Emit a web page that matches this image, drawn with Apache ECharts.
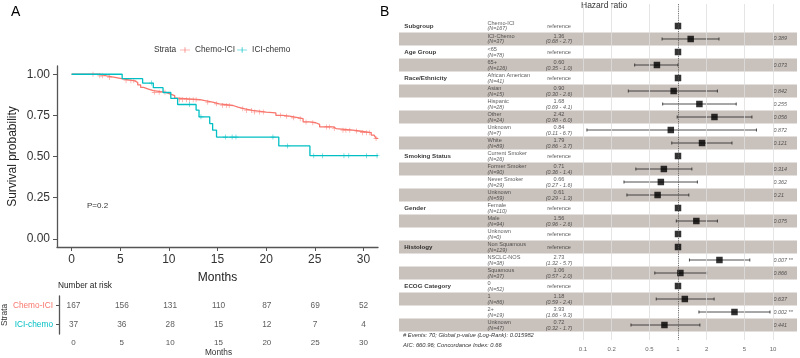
<!DOCTYPE html>
<html>
<head>
<meta charset="utf-8">
<script src="https://cdn.jsdelivr.net/npm/echarts@6/dist/echarts.min.js"></script>
<style>
  html, body { margin: 0; padding: 0; background: #fff; }
  #main { width: 800px; height: 358px; }
</style>
</head>
<body>
<div id="main"></div>
<script>
// ---- KM curves (months, survival) ----
const chemoTime = [0, 2.9, 3.6, 4.6, 5.4, 6.5, 6.8, 7.1, 7.4, 7.9, 8.4, 9.7, 10.1, 10.6, 10.9, 13.2, 13.7, 14.5, 15.2, 16.6, 17.1, 17.8, 18.6, 20.0, 21.0, 21.7, 22.4, 23.4, 23.8, 24.5, 25.1, 25.5, 26.9, 27.2, 28.9, 29.6, 30.8, 31.1, 31.3, 31.5];
const chemoSurv = [1.00, 0.99, 0.98, 0.97, 0.96, 0.95, 0.935, 0.92, 0.91, 0.90, 0.89, 0.88, 0.87, 0.855, 0.845, 0.84, 0.83, 0.82, 0.81, 0.80, 0.79, 0.78, 0.77, 0.765, 0.75, 0.745, 0.735, 0.73, 0.71, 0.705, 0.695, 0.68, 0.67, 0.66, 0.655, 0.645, 0.63, 0.62, 0.61, 0.61];
const chemoCensor = [2.2, 2.9, 3.2, 3.9, 5.6, 6.1, 6.4, 8.5, 9.0, 9.6, 11.1, 11.4, 11.8, 12.1, 12.5, 12.8, 14.0, 14.9, 15.5, 15.9, 16.2, 17.6, 18.0, 18.5, 18.8, 19.3, 19.7, 21.5, 22.1, 22.8, 23.5, 24.1, 24.8, 26.2, 26.5, 27.0, 27.9, 28.2, 28.6, 29.3, 29.9, 30.3, 30.6, 31.3];

const iciTime = [0, 5.2, 7.3, 8.4, 9.4, 10.2, 10.9, 12.8, 13.1, 14.2, 14.5, 14.9, 21.3, 24.5, 31.5];
const iciSurv = [1.00, 0.973, 0.946, 0.918, 0.889, 0.853, 0.816, 0.782, 0.741, 0.70, 0.66, 0.618, 0.564, 0.505, 0.505];
const iciCensor = [8.2, 12.1, 13.3, 15.8, 16.5, 16.9, 20.7, 22.2, 24.9, 25.8, 28.0, 28.5, 30.3, 31.4];

const monthTicks = [0, 5, 10, 15, 20, 25, 30];
const survTicks = [0, 0.25, 0.5, 0.75, 1];
const strataNames = ['Chemo-ICI', 'ICI-chemo'];
const riskChemo = [167, 156, 131, 110, 87, 69, 52];
const riskIci = [37, 36, 28, 15, 12, 7, 4];

// ---- forest plot ----
const varNames = ['Subgroup', 'Age Group', 'Race/Ethnicity', 'Smoking Status', 'Gender', 'Histology', 'ECOG Category'];
const varRow = [1, 3, 5, 11, 15, 18, 21];
const levelNames = ['Chemo-ICI', 'ICI-Chemo', '<65', '65+', 'African American', 'Asian', 'Hispanic', 'Other', 'Unknown', 'White',
  'Current Smoker', 'Former Smoker', 'Never Smoker', 'Unknown', 'Female', 'Male', 'Unknown',
  'Non Squamous', 'NSCLC-NOS', 'Squamous', '0', '1', '2+', 'Unknown'];
const levelN = [167, 37, 78, 126, 41, 15, 28, 24, 7, 89, 26, 90, 29, 59, 110, 94, 0, 129, 38, 37, 52, 86, 19, 47];
const hr = [null, 1.36, null, 0.60, null, 0.90, 1.68, 2.42, 0.84, 1.79, null, 0.71, 0.66, 0.61, null, 1.56, null, null, 2.73, 1.06, null, 1.18, 3.93, 0.72];
const hrLow = [null, 0.68, null, 0.35, null, 0.30, 0.69, 0.98, 0.11, 0.86, null, 0.36, 0.27, 0.29, null, 0.96, null, null, 1.32, 0.57, null, 0.59, 1.66, 0.32];
const hrHigh = [null, 2.7, null, 1.0, null, 2.6, 4.1, 6.0, 6.7, 3.7, null, 1.4, 1.6, 1.3, null, 2.6, null, null, 5.7, 2.0, null, 2.4, 9.3, 1.7];
const pText = ['', '0.389', '', '0.073', '', '0.842', '0.255', '0.056', '0.872', '0.121', '', '0.314', '0.362', '0.21', '', '0.075', '', '', '0.007 **', '0.866', '', '0.637', '0.002 **', '0.441'];
const hrTicks = [0.1, 0.2, 0.5, 1, 2, 5, 10];

const RED = '#F8766D', TEAL = '#00BFC4';
const FONT = 'Liberation Sans, Arial, sans-serif';
const cross = 'path://M0,4.4h10v1.2h-10z M4.4,0h1.2v10h-1.2z';

function survAt(times, surv, t) {
  let s = surv[0];
  for (let i = 0; i < times.length; i++) if (times[i] <= t) s = surv[i];
  return s;
}

const myChart = echarts.init(document.getElementById('main'));

// text column positions on the hidden 0..1 axis
const COL_VAR = 0.012, COL_LEVEL = 0.221, COL_EST = 0.402, COL_P = 0.94;

const txt = (x, y, text, extra) => ({
  type: 'text', left: x, top: y,
  style: Object.assign({ text: text, fontFamily: FONT, fill: '#222', fontSize: 8 }, extra || {})
});

myChart.setOption({
  animation: false,
  textStyle: { fontFamily: FONT },
  legend: {
    left: 180, top: 46, padding: 0, itemWidth: 10, itemHeight: 7, itemGap: 2,
    textStyle: { fontSize: 8.3, color: '#333' },
    data: [{ name: 'Chemo-ICI', icon: 'path://M0,4.5h14v1h-14z M6.5,1h1v8h-1z' },
           { name: 'ICI-chemo', icon: 'path://M0,4.5h14v1h-14z M6.5,1h1v8h-1z' }]
  },
  graphic: [
    txt(11, 5, 'A', { fontSize: 14, fill: '#000' }),
    txt(380, 5, 'B', { fontSize: 14, fill: '#000' }),
    txt(154, 45.5, 'Strata', { fontSize: 8.3, fill: '#333' }),
    txt(87, 202, 'P=0.2', { fontSize: 8, fill: '#333' }),
    txt(58, 282, 'Number at risk', { fontSize: 8.3, fill: '#222' }),
    txt(581, 1, 'Hazard ratio', { fontSize: 8.5, fill: '#333' }),
    txt(403, 332, '# Events: 70; Global p-value (Log-Rank): 0.015982', { fontSize: 5.8, fontStyle: 'italic', fill: '#333' }),
    txt(403, 342, 'AIC: 660.96; Concordance Index: 0.66', { fontSize: 5.8, fontStyle: 'italic', fill: '#333' })
  ],
  grid: [
    { left: 57, top: 66, width: 321, height: 181 },
    { left: 57, top: 296, width: 321, height: 38 },
    { left: 399, top: 4, width: 398, height: 336 }
  ],
  xAxis: [
    {
      gridIndex: 0, type: 'value', min: -1.5, max: 31.5,
      axisLine: { onZero: false, lineStyle: { color: '#555', width: 1.3 } },
      axisTick: { customValues: monthTicks, length: 4, lineStyle: { color: '#555' } },
      axisLabel: { customValues: monthTicks, fontSize: 12, color: '#333', margin: 7 },
      splitLine: { show: false },
      name: 'Months', nameLocation: 'middle', nameGap: 25,
      nameTextStyle: { fontSize: 12, color: '#222' }
    },
    {
      gridIndex: 1, type: 'value', min: -1.5, max: 31.5,
      axisLine: { onZero: false, lineStyle: { color: '#555', width: 1.3 } },
      axisTick: { customValues: monthTicks, length: 3, lineStyle: { color: '#555' } },
      axisLabel: { customValues: monthTicks, fontSize: 8, color: '#555', margin: 5 },
      splitLine: { show: false },
      name: 'Months', nameLocation: 'middle', nameGap: 15,
      nameTextStyle: { fontSize: 8.3, color: '#333' }
    },
    {
      gridIndex: 2, type: 'log', min: 0.001157, max: 17.89,
      axisLine: { show: false }, axisTick: { show: false }, splitLine: { show: false },
      axisLabel: {
        customValues: hrTicks, fontSize: 6, color: '#666', margin: 6,
        formatter: v => String(Number(Number(v).toPrecision(3)))
      }
    },
    { gridIndex: 2, type: 'value', min: 0, max: 1, show: false }
  ],
  yAxis: [
    {
      gridIndex: 0, type: 'value', min: -0.05, max: 1.05,
      axisLine: { show: true, onZero: false, lineStyle: { color: '#555', width: 1.3 } },
      axisTick: { show: true, customValues: survTicks, length: 4, lineStyle: { color: '#555' } },
      axisLabel: { customValues: survTicks, fontSize: 12, color: '#333', margin: 7, formatter: v => Number(v).toFixed(2) },
      splitLine: { show: false },
      name: 'Survival probability', nameLocation: 'middle', nameGap: 38,
      nameTextStyle: { fontSize: 12, color: '#222' }
    },
    {
      gridIndex: 1, type: 'category', data: strataNames, inverse: true,
      axisLine: { show: true, onZero: false, lineStyle: { color: '#555', width: 1.3 } },
      axisTick: { show: true, alignWithLabel: true, length: 3, lineStyle: { color: '#555' } },
      axisLabel: {
        fontSize: 8.3, margin: 6,
        formatter: (v, i) => (i === 0 ? '{a|' + v + '}' : '{b|' + v + '}'),
        rich: { a: { color: RED, fontSize: 8.3 }, b: { color: TEAL, fontSize: 8.3 } }
      },
      name: 'Strata', nameLocation: 'middle', nameGap: 47, nameRotate: 90,
      nameTextStyle: { fontSize: 8.3, color: '#333' }
    },
    { gridIndex: 2, type: 'value', min: -0.6923, max: 25.1538, inverse: true, show: false }
  ],
  series: [
    {
      name: 'Chemo-ICI', type: 'line', step: 'end', showSymbol: false, xAxisIndex: 0, yAxisIndex: 0,
      data: chemoTime.map((t, i) => [t, chemoSurv[i]]),
      lineStyle: { color: RED, width: 1.3 }, itemStyle: { color: RED }
    },
    {
      name: 'ICI-chemo', type: 'line', step: 'end', showSymbol: false, xAxisIndex: 0, yAxisIndex: 0,
      data: iciTime.map((t, i) => [t, iciSurv[i]]),
      lineStyle: { color: TEAL, width: 1.3 }, itemStyle: { color: TEAL }
    },
    {
      name: 'Chemo-ICI', type: 'scatter', symbol: cross, symbolSize: 5, xAxisIndex: 0, yAxisIndex: 0,
      data: chemoCensor.map(t => [t, survAt(chemoTime, chemoSurv, t)]), itemStyle: { color: RED }
    },
    {
      name: 'ICI-chemo', type: 'scatter', symbol: cross, symbolSize: 5, xAxisIndex: 0, yAxisIndex: 0,
      data: iciCensor.map(t => [t, survAt(iciTime, iciSurv, t)]), itemStyle: { color: TEAL }
    },
    {
      name: 'risk1', type: 'scatter', xAxisIndex: 1, yAxisIndex: 1, symbolSize: 1,
      itemStyle: { color: 'rgba(0,0,0,0)' },
      data: monthTicks.map((t, i) => [t, 0, riskChemo[i]]),
      label: { show: true, position: 'inside', formatter: p => p.value[2], fontSize: 8.3, color: '#333' }
    },
    {
      name: 'risk2', type: 'scatter', xAxisIndex: 1, yAxisIndex: 1, symbolSize: 1,
      itemStyle: { color: 'rgba(0,0,0,0)' },
      data: monthTicks.map((t, i) => [t, 1, riskIci[i]]),
      label: { show: true, position: 'inside', formatter: p => p.value[2], fontSize: 8.3, color: '#333' }
    },
    // forest: shaded rows + grid lines
    {
      name: 'rows', type: 'custom', xAxisIndex: 2, yAxisIndex: 2, z: 1, silent: true,
      data: levelNames.map((l, i) => [1, i + 1]).filter(d => d[1] % 2 === 0),
      encode: { x: 0, y: 1 },
      renderItem: (params, api) => {
        const a = api.coord([1, api.value(1) - 0.5]);
        const b = api.coord([1, api.value(1) + 0.5]);
        const cs = params.coordSys;
        return { type: 'rect', shape: { x: cs.x, y: a[1], width: cs.width, height: b[1] - a[1] },
                 style: { fill: 'rgba(147,131,119,0.5)' } };
      },
      markLine: {
        silent: true, symbol: 'none', label: { show: false },
        lineStyle: { color: '#dedede', width: 0.8, type: 'solid' },
        data: hrTicks.filter(v => v !== 1).map(v => ({ xAxis: v }))
      }
    },
    {
      name: 'ci', type: 'custom', xAxisIndex: 2, yAxisIndex: 2, z: 2, silent: true,
      data: hr.map((h, i) => [hrLow[i], hrHigh[i], i + 1]).filter(d => d[0] !== null),
      encode: { x: [0, 1], y: 2 },
      renderItem: (params, api) => {
        const a = api.coord([api.value(0), api.value(2)]);
        const b = api.coord([api.value(1), api.value(2)]);
        const st = { stroke: '#222', lineWidth: 0.8 };
        return { type: 'group', children: [
          { type: 'line', shape: { x1: a[0], y1: a[1], x2: b[0], y2: b[1] }, style: st },
          { type: 'line', shape: { x1: a[0], y1: a[1] - 1.5, x2: a[0], y2: a[1] + 1.5 }, style: st },
          { type: 'line', shape: { x1: b[0], y1: b[1] - 1.5, x2: b[0], y2: b[1] + 1.5 }, style: st }
        ] };
      },
      markLine: {
        silent: true, symbol: 'none', label: { show: false },
        lineStyle: { color: '#555', width: 0.9, type: 'dotted' },
        data: [{ xAxis: 1 }]
      }
    },
    {
      name: 'hr', type: 'scatter', xAxisIndex: 2, yAxisIndex: 2, z: 3, symbol: 'rect', symbolSize: 6.5,
      itemStyle: { color: '#000' },
      data: hr.map((h, i) => [h === null ? 1 : h, i + 1])
    },
    // forest text columns
    {
      name: 'vars', type: 'scatter', xAxisIndex: 3, yAxisIndex: 2, z: 4, symbolSize: 1,
      itemStyle: { color: 'rgba(0,0,0,0)' },
      data: varRow.map(r => [COL_VAR, r]),
      label: { show: true, position: 'right', distance: 0, formatter: p => varNames[p.dataIndex],
               fontSize: 6.2, fontWeight: 'bold', color: '#000' }
    },
    {
      name: 'levels', type: 'scatter', xAxisIndex: 3, yAxisIndex: 2, z: 4, symbolSize: 1,
      itemStyle: { color: 'rgba(0,0,0,0)' },
      data: levelNames.map((l, i) => [COL_LEVEL, i + 1]),
      label: {
        show: true, position: 'right', distance: 0,
        formatter: p => '{n|' + levelNames[p.dataIndex] + '}\n{i|(N=' + levelN[p.dataIndex] + ')}',
        rich: { n: { fontSize: 5.6, color: '#333', lineHeight: 6 },
                i: { fontSize: 5.4, color: '#333', fontStyle: 'italic', lineHeight: 6 } }
      }
    },
    {
      name: 'est', type: 'scatter', xAxisIndex: 3, yAxisIndex: 2, z: 4, symbolSize: 1,
      itemStyle: { color: 'rgba(0,0,0,0)' },
      data: levelNames.map((l, i) => [COL_EST, i + 1]),
      label: {
        show: true, position: 'inside',
        formatter: p => {
          const i = p.dataIndex;
          if (hr[i] === null) return '{r|reference}';
          return '{h|' + hr[i].toFixed(2) + '}\n{c|(' + hrLow[i].toFixed(2) + ' - ' + hrHigh[i].toPrecision(2) + ')}';
        },
        rich: { r: { fontSize: 5.6, color: '#333' },
                h: { fontSize: 5.6, color: '#333', lineHeight: 6 },
                c: { fontSize: 5.4, color: '#333', fontStyle: 'italic', lineHeight: 6 } }
      }
    },
    {
      name: 'pval', type: 'scatter', xAxisIndex: 3, yAxisIndex: 2, z: 4, symbolSize: 1,
      itemStyle: { color: 'rgba(0,0,0,0)' },
      data: levelNames.map((l, i) => [COL_P, i + 1]),
      label: { show: true, position: 'right', distance: 0, formatter: p => pText[p.dataIndex],
               fontSize: 5.4, fontStyle: 'italic', color: '#333' }
    }
  ]
});
</script>
</body>
</html>
